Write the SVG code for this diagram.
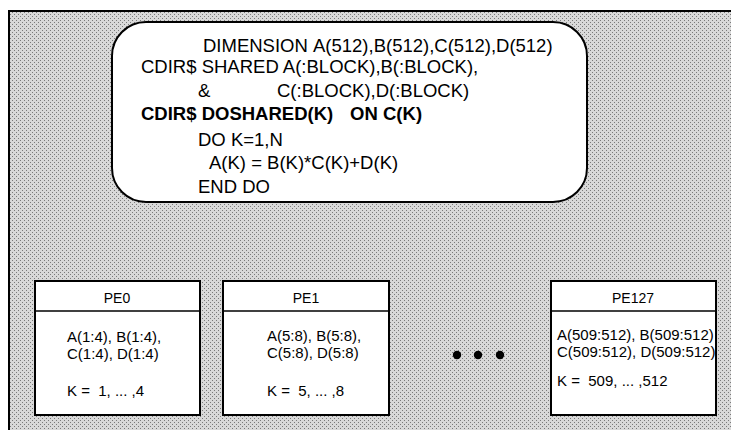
<svg xmlns="http://www.w3.org/2000/svg" width="731" height="430" viewBox="0 0 731 430">
  <defs>
    <pattern id="dots" width="4" height="4" patternUnits="userSpaceOnUse">
      <rect width="4" height="4" fill="#d9d9d9"/>
      <rect x="0" y="0" width="1" height="1" fill="#7a7a7a"/>
      <rect x="2" y="2" width="1" height="1" fill="#7a7a7a"/>
    </pattern>
    <style>
      .code { font-family: "Liberation Sans", Arial, sans-serif; font-size: 18.5px; fill: #000; white-space: pre; }
      .bold { font-weight: bold; }
      .pe { font-family: "Liberation Sans", Arial, sans-serif; font-size: 15px; fill: #000; white-space: pre; }
      .title { font-family: "Liberation Sans", Arial, sans-serif; font-size: 14px; fill: #000; text-anchor: middle; }
      .box { fill: #fff; stroke: #000; stroke-width: 2; }
      .line { stroke: #000; stroke-width: 1.5; fill: none; }
    </style>
  </defs>

  <rect x="0" y="0" width="731" height="430" fill="#fff"/>
  <g id="frame">
    <rect x="9" y="11" width="722" height="419" fill="url(#dots)"/>
    <path d="M9 430 V11 H731" fill="none" stroke="#000" stroke-width="2"/>
  </g>

  <g id="code">
    <rect x="112" y="22" width="475" height="180" rx="34" ry="34" class="box"/>
    <text class="code" x="203" y="51.5">DIMENSION</text>
    <text class="code" x="313" y="51.5">A(512),B(512),C(512),D(512)</text>
    <text class="code" x="141" y="73">CDIR$ SHARED A(:BLOCK),B(:BLOCK),</text>
    <text class="code" x="198" y="97">&amp;</text>
    <text class="code" x="277" y="97">C(:BLOCK),D(:BLOCK)</text>
    <text class="code bold" x="141" y="120">CDIR$ DOSHARED(K)</text>
    <text class="code bold" x="350" y="120">ON</text>
    <text class="code bold" x="383" y="120">C(K)</text>
    <text class="code" x="198" y="145.5">DO K=1,N</text>
    <text class="code" x="209" y="169">A(K) = B(K)*C(K)+D(K)</text>
    <text class="code" x="198" y="193">END DO</text>
  </g>

  <g id="pe0">
    <rect x="35" y="281" width="165" height="134" class="box"/>
    <line x1="35" y1="311" x2="200" y2="311" class="line"/>
    <text class="title" x="117" y="303">PE0</text>
    <text class="pe" x="67" y="342">A(1:4), B(1:4),</text>
    <text class="pe" x="67" y="359">C(1:4), D(1:4)</text>
    <text class="pe" x="67" y="396">K =  1, ... ,4</text>
  </g>

  <g id="pe1">
    <rect x="223" y="281" width="166" height="134" class="box"/>
    <line x1="223" y1="311" x2="389" y2="311" class="line"/>
    <text class="title" x="306" y="303">PE1</text>
    <text class="pe" x="267" y="341">A(5:8), B(5:8),</text>
    <text class="pe" x="267" y="358">C(5:8), D(5:8)</text>
    <text class="pe" x="267" y="396">K =  5, ... ,8</text>
  </g>

  <g id="ellipsis">
    <circle cx="457" cy="355" r="4.2" fill="#000"/>
    <circle cx="478" cy="355" r="4.2" fill="#000"/>
    <circle cx="500" cy="355" r="4.2" fill="#000"/>
  </g>

  <g id="pe127">
    <rect x="551" y="281" width="165" height="134" class="box"/>
    <line x1="551" y1="311" x2="716" y2="311" class="line"/>
    <text class="title" x="633" y="303">PE127</text>
    <text class="pe" x="557" y="340">A(509:512), B(509:512)</text>
    <text class="pe" x="557" y="357">C(509:512), D(509:512)</text>
    <text class="pe" x="557" y="386">K =  509, ... ,512</text>
  </g>
</svg>
